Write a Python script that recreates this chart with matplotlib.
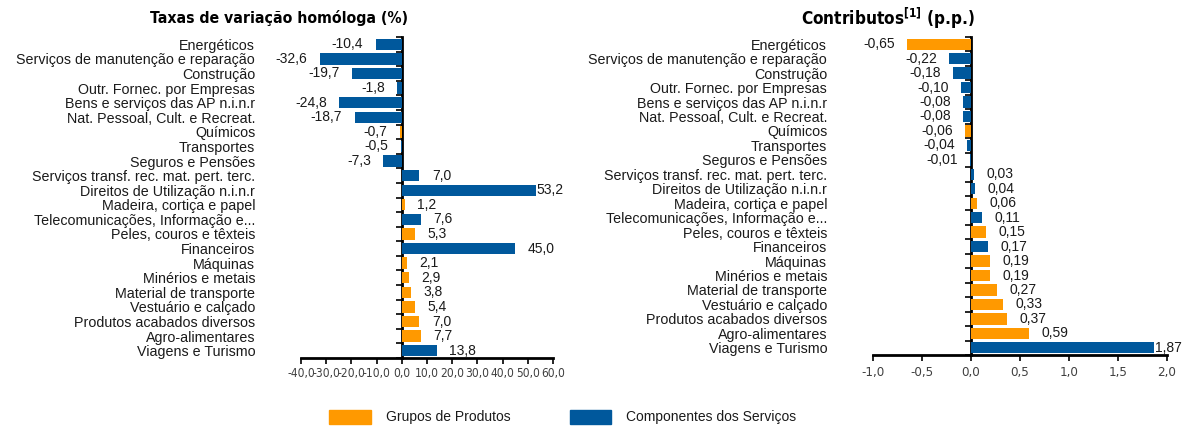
import matplotlib
matplotlib.use("Agg")
import matplotlib.pyplot as plt
from matplotlib.patches import Rectangle
from matplotlib import font_manager
import numpy as np

categories = [
    "Energéticos",
    "Serviços de manutenção e reparação",
    "Construção",
    "Outr. Fornec. por Empresas",
    "Bens e serviços das AP n.i.n.r",
    "Nat. Pessoal, Cult. e Recreat.",
    "Químicos",
    "Transportes",
    "Seguros e Pensões",
    "Serviços transf. rec. mat. pert. terc.",
    "Direitos de Utilização n.i.n.r",
    "Madeira, cortiça e papel",
    "Telecomunicações, Informação e...",
    "Peles, couros e têxteis",
    "Financeiros",
    "Máquinas",
    "Minérios e metais",
    "Material de transporte",
    "Vestuário e calçado",
    "Produtos acabados diversos",
    "Agro-alimentares",
    "Viagens e Turismo",
]
taxas = [-10.4, -32.6, -19.7, -1.8, -24.8, -18.7, -0.7, -0.5, -7.3, 7.0, 53.2,
         1.2, 7.6, 5.3, 45.0, 2.1, 2.9, 3.8, 5.4, 7.0, 7.7, 13.8]
contributos = [-0.65, -0.22, -0.18, -0.10, -0.08, -0.08, -0.06, -0.04, -0.01,
               0.03, 0.04, 0.06, 0.11, 0.15, 0.17, 0.19, 0.19, 0.27, 0.33,
               0.37, 0.59, 1.87]
# group: P = Grupos de Produtos, S = Componentes dos Serviços
groups_left = ["S", "S", "S", "S", "S", "S", "P", "S", "S", "S", "S",
               "P", "S", "P", "S", "P", "P", "P", "P", "P", "P", "S"]
groups_right = ["P", "S", "S", "S", "S", "S", "P", "S", "S", "S", "S",
                "P", "S", "P", "S", "P", "P", "P", "P", "P", "P", "S"]
left_ticks = [-40, -30, -20, -10, 0, 10, 20, 30, 40, 50, 60]
right_ticks = [-1.0, -0.5, 0.0, 0.5, 1.0, 1.5, 2.0]
legend_labels = ["Grupos de Produtos", "Componentes dos Serviços"]

ORANGE = "#FF9900"
BLUE = "#00589C"
colmap = {"P": ORANGE, "S": BLUE}

plt.rcParams["font.family"] = ["Liberation Sans", "DejaVu Sans"]
plt.rcParams["mathtext.default"] = "regular"

names = {f.name for f in font_manager.fontManager.ttflist}
if "Liberation Sans Narrow" in names:
    NARROW = dict(family=["Liberation Sans Narrow", "Liberation Sans"])
else:
    NARROW = dict(family=["DejaVu Sans"], fontstretch="condensed")

fig = plt.figure(figsize=(11.86, 4.26), dpi=100)
W, H = 1186, 426


def make_axes(x0, x1, y0, y1):
    return fig.add_axes([x0 / W, 1 - y1 / H, (x1 - x0) / W, (y1 - y0) / H])


def draw(ax, values, groups, ticks, tick_dec, lab_dec, xlim, tick_fs, tick_pad):
    n = len(values)
    y = np.arange(n)
    colors = [colmap[g] for g in groups]
    bars = ax.barh(y, values, height=0.78, color=colors, zorder=2)
    ax.set_ylim(n - 0.5, -0.5)
    ax.set_xlim(*xlim)
    ax.set_yticks(y)
    ax.set_yticklabels(categories, fontsize=10.3, color="#1a1a1a")
    ax.tick_params(axis="y", length=0, pad=33)
    ax.set_xticks(ticks)
    fmt = "{:.%df}" % tick_dec
    ax.set_xticklabels([fmt.format(t).replace(".", ",") for t in ticks],
                       fontsize=tick_fs, color="#404040", **NARROW)
    ax.tick_params(axis="x", direction="out", length=4, width=1.2, color="black", pad=tick_pad)
    for s in ["top", "right", "left"]:
        ax.spines[s].set_visible(False)
    ax.spines["bottom"].set_linewidth(2)
    lfmt = "{:.%df}" % lab_dec
    span = xlim[1] - xlim[0]
    for b, v in zip(bars, values):
        txt = lfmt.format(v).replace(".", ",")
        yc = b.get_y() + b.get_height() / 2
        if v >= 0:
            pad = 9 if v < xlim[1] - 0.12 * span else 0.5
            ax.annotate(txt, (v, yc), xytext=(pad, 0), textcoords="offset points",
                        ha="left", va="center", fontsize=10, color="#1a1a1a")
        else:
            ax.annotate(txt, (v, yc), xytext=(-9, 0), textcoords="offset points",
                        ha="right", va="center", fontsize=10, color="#1a1a1a")
    loc = (0 - xlim[0]) / span
    sec = ax.secondary_yaxis(loc)
    sec.set_yticks(np.arange(n + 1) - 0.5)
    sec.set_yticklabels([])
    sec.tick_params(direction="out", length=4, width=1.2, color="black")
    sec.spines["left"].set_linewidth(2)
    return ax


ax1 = make_axes(301, 553, 37, 358)
draw(ax1, taxas, groups_left, left_ticks, 1, 1, (-40, 60), 8.6, 2.5)
ax2 = make_axes(873, 1167, 37, 355)
draw(ax2, contributos, groups_right, right_ticks, 1, 2, (-1.0, 2.0), 9.5, 4)

fig.text(279 / W, 1 - 18 / H, "Taxas de variação homóloga (%)", ha="center", va="center",
         fontsize=11.3, fontweight="bold", **NARROW)
fig.text(888 / W, 1 - 18 / H, r"Contributos$^{[1]}$ (p.p.)", ha="center", va="center",
         fontsize=12.3, fontweight="bold", **NARROW)

for (x0, x1, tx), lab, c in zip([(329, 371, 386), (570, 611, 626)], legend_labels, [ORANGE, BLUE]):
    fig.add_artist(Rectangle((x0 / W, 1 - 424 / H), (x1 - x0) / W, 14 / H,
                             transform=fig.transFigure, color=c))
    fig.text(tx / W, 1 - 417 / H, lab, ha="left", va="center", fontsize=10, color="#1a1a1a")

fig.savefig("out.png", dpi=100)
